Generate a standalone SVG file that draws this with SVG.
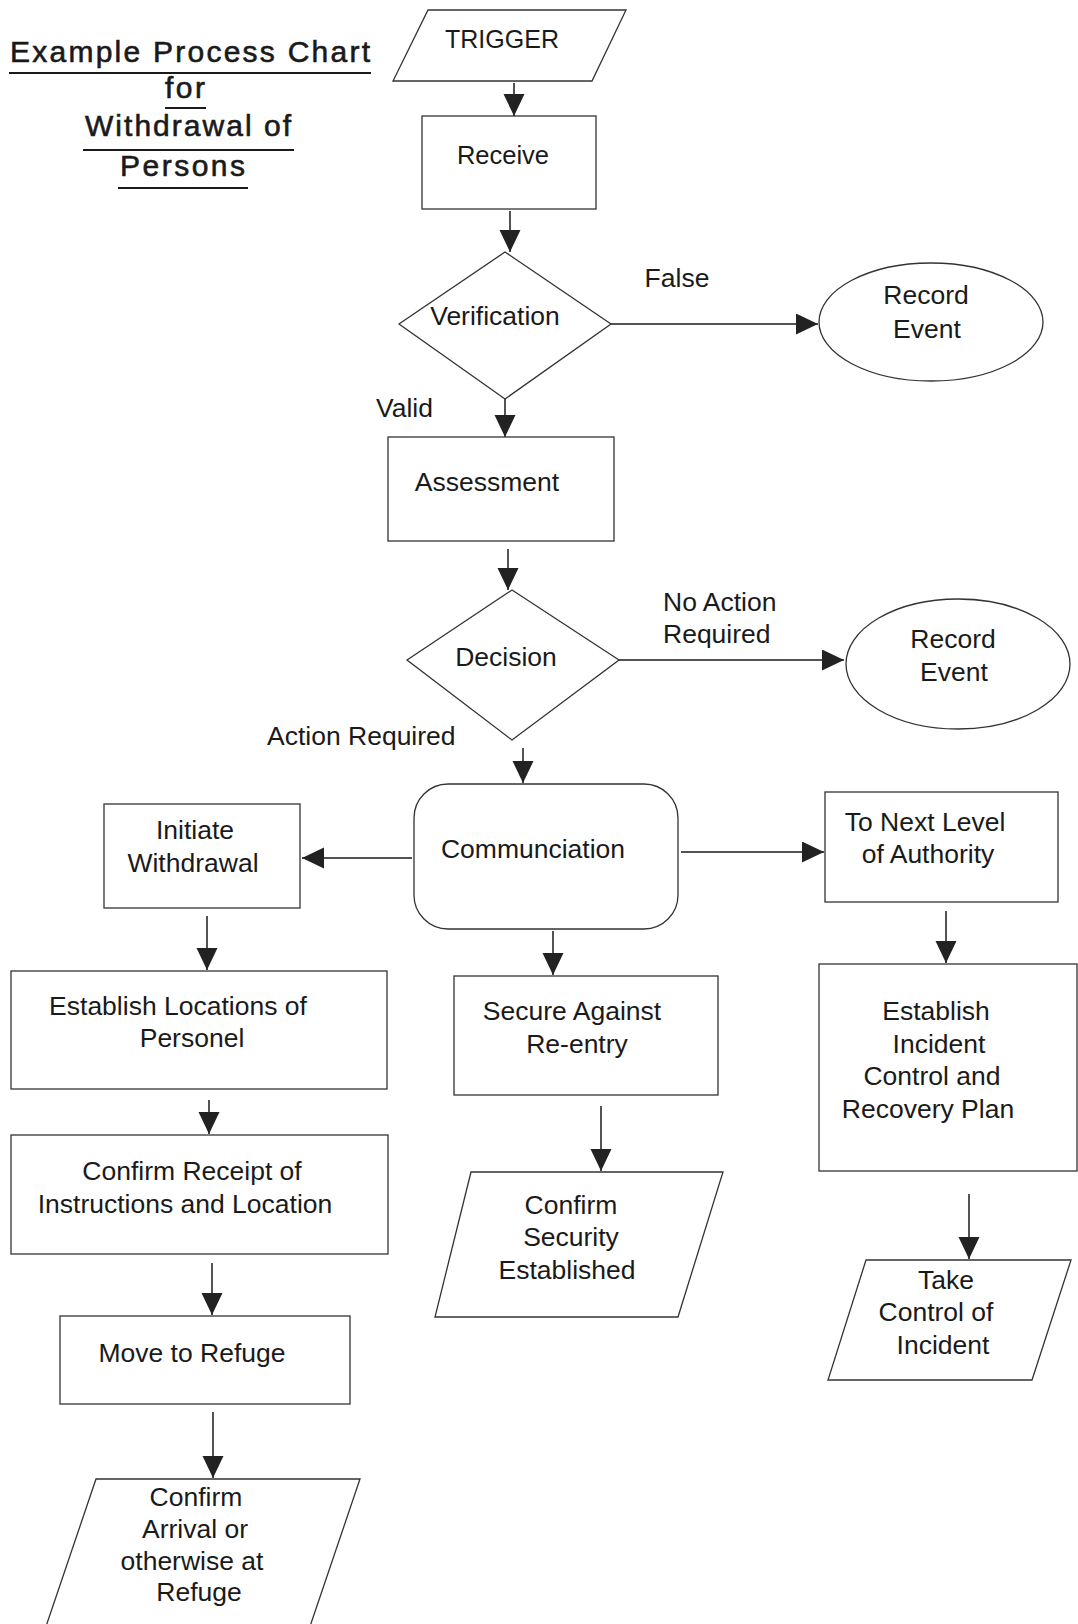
<svg xmlns="http://www.w3.org/2000/svg" width="1078" height="1624" viewBox="0 0 1078 1624">
<defs>
<marker id="ah" markerUnits="userSpaceOnUse" markerWidth="24" markerHeight="22" refX="22" refY="10.5" orient="auto">
<path d="M0,0 L22,10.5 L0,21 z" fill="#222"/>
</marker>
<style>
.shape{fill:#fff;stroke:#333;stroke-width:1.3}
.t{font-family:"Liberation Sans",Arial,sans-serif;font-size:26.5px;fill:#1a1a1a;text-anchor:middle}
.l{font-family:"Liberation Sans",Arial,sans-serif;font-size:26.5px;fill:#1a1a1a}
.title{font-family:"Liberation Sans",Arial,sans-serif;font-size:30px;fill:#1a1a1a;stroke:#1a1a1a;stroke-width:0.6}
.ul{stroke:#1a1a1a;stroke-width:2.2}
.c{stroke:#1a1a1a;stroke-width:1.5;fill:none;marker-end:url(#ah)}
</style>
</defs>
<rect width="1078" height="1624" fill="#fff"/>

<g id="title">
<text class="title" x="10" y="62" textLength="360" lengthAdjust="spacing">Example Process Chart</text>
<line class="ul" x1="9" y1="73" x2="371" y2="73"/>
<text class="title" x="165" y="98" textLength="40" lengthAdjust="spacing">for</text>
<line class="ul" x1="165" y1="108" x2="206" y2="108"/>
<text class="title" x="85" y="136" textLength="206" lengthAdjust="spacing">Withdrawal of</text>
<line class="ul" x1="83" y1="150" x2="294" y2="150"/>
<text class="title" x="120" y="176" textLength="125" lengthAdjust="spacing">Persons</text>
<line class="ul" x1="118" y1="188" x2="248" y2="188"/>
</g>

<g id="connectors">
<line class="c" x1="514" y1="83" x2="514" y2="116"/>
<line class="c" x1="510" y1="211" x2="510" y2="252"/>
<line class="c" x1="611" y1="324" x2="818" y2="324"/>
<line class="c" x1="505" y1="399" x2="505" y2="437"/>
<line class="c" x1="508" y1="549" x2="508" y2="590"/>
<line class="c" x1="619" y1="660" x2="844" y2="660"/>
<line class="c" x1="523" y1="748" x2="523" y2="783"/>
<line class="c" x1="412" y1="858" x2="302" y2="858"/>
<line class="c" x1="681" y1="852" x2="824" y2="852"/>
<line class="c" x1="207" y1="916" x2="207" y2="970"/>
<line class="c" x1="553" y1="931" x2="553" y2="975"/>
<line class="c" x1="946" y1="911" x2="946" y2="963"/>
<line class="c" x1="209" y1="1100" x2="209" y2="1134"/>
<line class="c" x1="601" y1="1106" x2="601" y2="1171"/>
<line class="c" x1="969" y1="1194" x2="969" y2="1259"/>
<line class="c" x1="212" y1="1263" x2="212" y2="1315"/>
<line class="c" x1="213" y1="1412" x2="213" y2="1478"/>
</g>

<g id="labels">
<text class="t" x="677" y="287">False</text>
<text class="l" x="376" y="417">Valid</text>
<text class="l" x="663" y="611">No Action</text>
<text class="l" x="663" y="643">Required</text>
<text class="l" x="267" y="745">Action Required</text>
</g>

<g id="trigger">
<polygon class="shape" points="428,10 626,10 592,81 393,81"/>
<text class="t" x="502" y="48" style="font-size:25px">TRIGGER</text>
</g>
<g id="receive">
<rect class="shape" x="422" y="116" width="174" height="93"/>
<text class="t" x="503" y="164" style="font-size:25.5px">Receive</text>
</g>
<g id="verification">
<polygon class="shape" points="505,252 611,324 505,399 399,324"/>
<text class="t" x="495" y="325">Verification</text>
</g>
<g id="record1">
<ellipse class="shape" cx="931" cy="322" rx="112" ry="59"/>
<text class="t" x="926" y="304">Record</text>
<text class="t" x="927" y="338">Event</text>
</g>
<g id="assessment">
<rect class="shape" x="388" y="437" width="226" height="104"/>
<text class="t" x="487" y="491">Assessment</text>
</g>
<g id="decision">
<polygon class="shape" points="512,590 619,660 512,740 407,660"/>
<text class="t" x="506" y="666">Decision</text>
</g>
<g id="record2">
<ellipse class="shape" cx="958" cy="664" rx="112" ry="65"/>
<text class="t" x="953" y="648">Record</text>
<text class="t" x="954" y="681">Event</text>
</g>
<g id="communication">
<rect class="shape" x="414" y="784" width="264" height="145" rx="34" ry="34"/>
<text class="t" x="533" y="858">Communciation</text>
</g>
<g id="initiate">
<rect class="shape" x="104" y="804" width="196" height="104"/>
<text class="t" x="195" y="839">Initiate</text>
<text class="t" x="193" y="872">Withdrawal</text>
</g>
<g id="nextlevel">
<rect class="shape" x="825" y="792" width="233" height="110"/>
<text class="t" x="925" y="831">To Next Level</text>
<text class="t" x="928" y="863">of Authority</text>
</g>
<g id="establishloc">
<rect class="shape" x="11" y="971" width="376" height="118"/>
<text class="t" x="178" y="1015">Establish Locations of</text>
<text class="t" x="192" y="1047">Personel</text>
</g>
<g id="secure">
<rect class="shape" x="454" y="976" width="264" height="119"/>
<text class="t" x="572" y="1020">Secure Against</text>
<text class="t" x="577" y="1053">Re-entry</text>
</g>
<g id="establishinc">
<rect class="shape" x="819" y="964" width="258" height="207"/>
<text class="t" x="936" y="1020">Establish</text>
<text class="t" x="939" y="1053">Incident</text>
<text class="t" x="932" y="1085">Control and</text>
<text class="t" x="928" y="1118">Recovery Plan</text>
</g>
<g id="confirmreceipt">
<rect class="shape" x="11" y="1135" width="377" height="119"/>
<text class="t" x="192" y="1180">Confirm Receipt of</text>
<text class="t" x="185" y="1213">Instructions and Location</text>
</g>
<g id="moverefuge">
<rect class="shape" x="60" y="1316" width="290" height="88"/>
<text class="t" x="192" y="1362">Move to Refuge</text>
</g>
<g id="confirmarrival">
<polygon class="shape" points="96,1479 360,1479 302,1650 38,1650"/>
<text class="t" x="196" y="1506">Confirm</text>
<text class="t" x="195" y="1538">Arrival or</text>
<text class="t" x="192" y="1570">otherwise at</text>
<text class="t" x="199" y="1601">Refuge</text>
</g>
<g id="confirmsecurity">
<polygon class="shape" points="471,1172 723,1172 678,1317 435,1317"/>
<text class="t" x="571" y="1214">Confirm</text>
<text class="t" x="571" y="1246">Security</text>
<text class="t" x="567" y="1279">Established</text>
</g>
<g id="takecontrol">
<polygon class="shape" points="866,1260 1071,1260 1032,1380 828,1380"/>
<text class="t" x="946" y="1289">Take</text>
<text class="t" x="936" y="1321">Control of</text>
<text class="t" x="943" y="1354">Incident</text>
</g>
</svg>
